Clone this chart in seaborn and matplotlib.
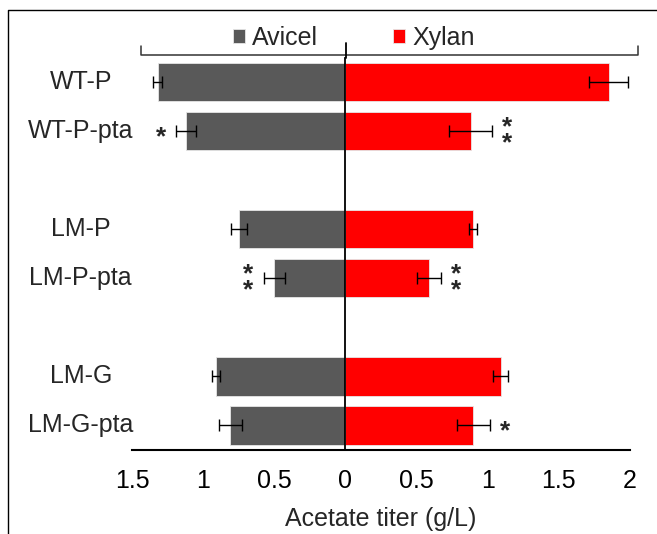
import numpy as np
import pandas as pd
import matplotlib
matplotlib.use('Agg')
import matplotlib.pyplot as plt
from matplotlib.lines import Line2D
from matplotlib.ticker import FuncFormatter
import seaborn as sns

# strains, top to bottom; blank slots separate the groups
order = ['WT-P', 'WT-P-pta', ' ', 'LM-P', 'LM-P-pta', '  ', 'LM-G', 'LM-G-pta']
strains = ['WT-P', 'WT-P-pta', 'LM-P', 'LM-P-pta', 'LM-G', 'LM-G-pta']

avicel = [1.32, 1.12, 0.75, 0.50, 0.91, 0.81]
avicel_err = [0.03, 0.07, 0.055, 0.075, 0.03, 0.08]
xylan = [1.85, 0.88, 0.895, 0.585, 1.09, 0.90]
xylan_err = [0.135, 0.15, 0.03, 0.085, 0.055, 0.115]

avicel_sig = ['', '*', '', '**', '', '']
xylan_sig = ['', '**', '', '**', '', '*']

colors = {'Avicel': '#595959', 'Xylan': '#ff0000'}

df = pd.DataFrame({
    'strain': strains * 2,
    'substrate': ['Avicel'] * len(strains) + ['Xylan'] * len(strains),
    'titer': [-v for v in avicel] + xylan,
})

sns.set_style('white')
plt.rcParams['font.family'] = ['Liberation Sans', 'DejaVu Sans']
FS = 18

W, H = 657, 534
fig = plt.figure(figsize=(W / 100, H / 100), dpi=100)
ax = fig.add_axes([132 / W, 84 / H, 498 / W, 392.3 / H])

sns.barplot(data=df, y='strain', x='titer', hue='substrate', order=order,
            hue_order=['Avicel', 'Xylan'], palette=colors, dodge=False,
            saturation=1, width=0.78, errorbar=None, orient='h', ax=ax,
            edgecolor='#e6e6e6', linewidth=0.6)

ypos = [order.index(s) for s in strains]
ax.errorbar([-v for v in avicel], ypos, xerr=avicel_err, fmt='none',
            ecolor='black', elinewidth=1, capsize=4, capthick=1)
ax.errorbar(xylan, ypos, xerr=xylan_err, fmt='none',
            ecolor='black', elinewidth=1, capsize=4, capthick=1)

# significance stars (double ones stacked)
for i, y in enumerate(ypos):
    for sig, val, err, side in ((avicel_sig[i], -avicel[i], avicel_err[i], -1),
                                (xylan_sig[i], xylan[i], xylan_err[i], 1)):
        if not sig:
            continue
        x = val + side * err
        ax.annotate('\n'.join(sig), (x, y), xytext=(side * 11, -4.5 if len(sig) == 1 else -3),
                    textcoords='offset points', ha='center', va='center',
                    fontsize=19, fontweight='bold', linespacing=0.56)

ax.set_xlim(-1.5, 2)
ax.set_ylim(7.5, -0.5)
ax.set_xticks(np.arange(-1.5, 2.01, 0.5))
ax.xaxis.set_major_formatter(FuncFormatter(lambda v, p: f'{abs(v):g}'))
ax.set_yticks(np.arange(-0.5, 7, 1))
ax.set_yticklabels([])
ax.spines['left'].set_position(('data', 0))
for s in ('top', 'right'):
    ax.spines[s].set_visible(False)
ax.spines['left'].set_linewidth(1.3)
ax.spines['bottom'].set_linewidth(1.5)
ax.spines['left'].set_color('black')
ax.spines['bottom'].set_color('black')
ax.tick_params(axis='y', direction='inout', length=11, width=1.5, colors='black')
ax.tick_params(axis='x', direction='out', length=5, width=1.5, colors='black',
               labelsize=FS, pad=9)
ax.set_ylabel('')
ax.set_xlabel('Acetate titer (g/L)', fontsize=FS, labelpad=10)

# strain labels on the left
for s in strains:
    ax.text(-0.103, order.index(s), s, transform=ax.get_yaxis_transform(),
            ha='center', va='center', fontsize=FS)

sns.move_legend(ax, loc='center', bbox_to_anchor=(354 / W, 1 - 38 / H),
                bbox_transform=fig.transFigure, ncol=2, frameon=False,
                title=None, fontsize=FS, handlelength=0.46, handleheight=0.46,
                handletextpad=0.3, columnspacing=3.0)

# top bracket and outer frame
def px_line(xs, ys, **kw):
    fig.add_artist(Line2D([x / W for x in xs], [1 - y / H for y in ys],
                          transform=fig.transFigure, **kw))

px_line([141, 141, 638, 638], [46, 55, 55, 46], color='#333333', lw=1.1)
px_line([346, 346], [43, 58], color='black', lw=1.3)
px_line([8, 8, W], [H, 10, 10], color='black', lw=1.0)

fig.savefig('out.png', dpi=100)
